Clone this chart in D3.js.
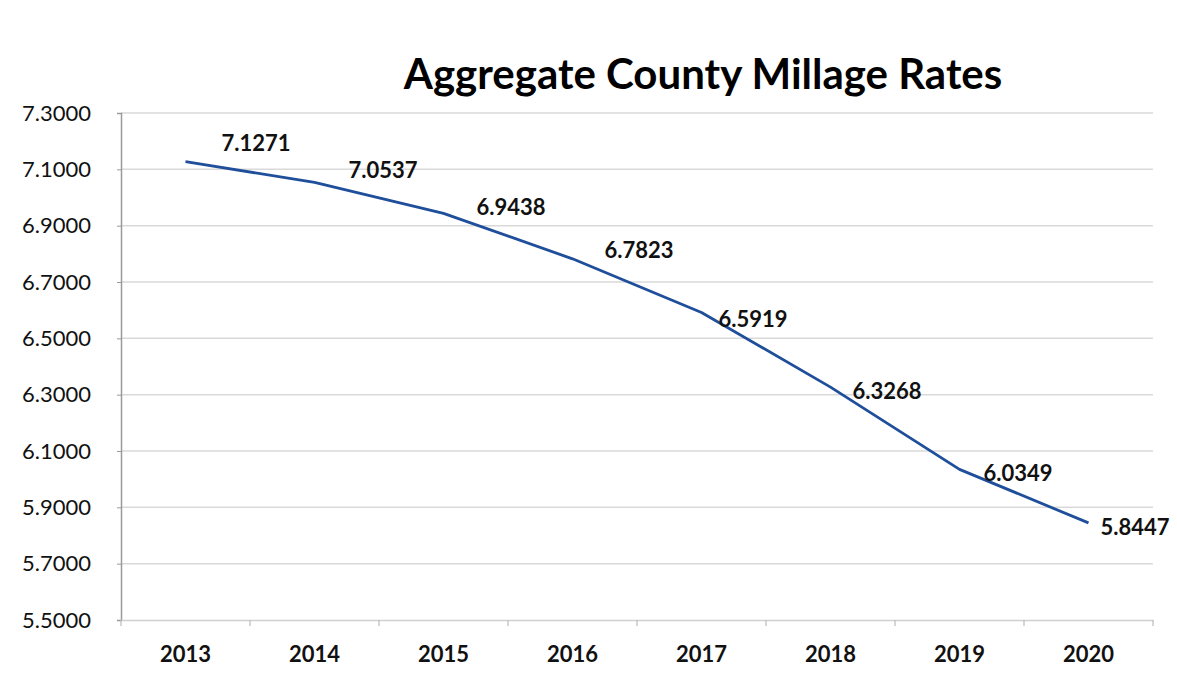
<!DOCTYPE html>
<html><head><meta charset="utf-8">
<script src="https://cdn.jsdelivr.net/npm/d3@7"></script>
<style>
body{margin:0;background:#fff;}
svg{display:block;font-family:Lato,"Open Sans",sans-serif;}
</style></head>
<body><svg id="c" width="1177" height="683"></svg>
<script>
const years = ["2013","2014","2015","2016","2017","2018","2019","2020"];
const rates = [7.1271, 7.0537, 6.9438, 6.7823, 6.5919, 6.3268, 6.0349, 5.8447];
const yTicks = [5.5,5.7,5.9,6.1,6.3,6.5,6.7,6.9,7.1,7.3];
const title = "Aggregate County Millage Rates";
// label offsets (px) relative to each point
const labelDx = [36,34,33,32,17,22,24,12];
const labelDy = [-18,-12,-6,-9,7,4,4,4];

const svg = d3.select("#c");
const m = {left:121, right:1153, top:113, bottom:620};
const x = d3.scaleBand().domain(years).range([m.left, m.right]);
const y = d3.scaleLinear().domain([5.5,7.3]).range([m.bottom, m.top]);

svg.append("text").attr("x",703).attr("y",89).attr("text-anchor","middle")
  .attr("font-size",42).attr("font-weight","bold").attr("fill","#000").text(title);

// gridlines
svg.append("g").selectAll("line").data(yTicks.slice(1)).join("line")
  .attr("x1",m.left).attr("x2",m.right).attr("y1",d=>y(d)).attr("y2",d=>y(d))
  .attr("stroke","#d9d9d9").attr("stroke-width",1.5);

// y axis
const ya = svg.append("g").attr("transform",`translate(${m.left},0)`)
  .call(d3.axisLeft(y).tickValues(yTicks).tickFormat(d3.format(".4f")).tickSize(4).tickPadding(26));
ya.select(".domain").attr("stroke","#9a9a9a").attr("stroke-width",1.5);
ya.selectAll(".tick line").attr("stroke","#9a9a9a");
ya.selectAll("text").attr("font-size",22).attr("fill","#111").attr("font-family","Lato");

// x axis
const xa = svg.append("g").attr("transform",`translate(0,${m.bottom})`)
  .call(d3.axisBottom(x).tickSize(0).tickPadding(26));
xa.select(".domain").attr("stroke","#d0d0d0").attr("stroke-width",1.5);
xa.selectAll("text").attr("font-size",22).attr("font-weight","bold").attr("fill","#111").attr("font-family","Lato");
// tick marks at band boundaries
const bounds = years.map(d=>x(d)).concat([x(years[years.length-1])+x.bandwidth()]);
svg.append("g").selectAll("line").data(bounds).join("line")
  .attr("x1",d=>d).attr("x2",d=>d).attr("y1",m.bottom).attr("y2",m.bottom+6)
  .attr("stroke","#bbb").attr("stroke-width",1.2);

// line
const line = d3.line().x((d,i)=>x(years[i])+x.bandwidth()/2).y(d=>y(d));
svg.append("path").datum(rates).attr("d",line).attr("fill","none")
  .attr("stroke","#1f4e9a").attr("stroke-width",2.8).attr("stroke-linejoin","round");

// labels
svg.append("g").selectAll("text").data(rates).join("text")
  .attr("x",(d,i)=>x(years[i])+x.bandwidth()/2+labelDx[i])
  .attr("y",(d,i)=>y(d)+labelDy[i])
  .attr("dy","0.35em")
  .attr("font-size",22).attr("font-weight","bold").attr("fill","#111")
  .text(d=>d3.format(".4f")(d));
</script></body></html>
